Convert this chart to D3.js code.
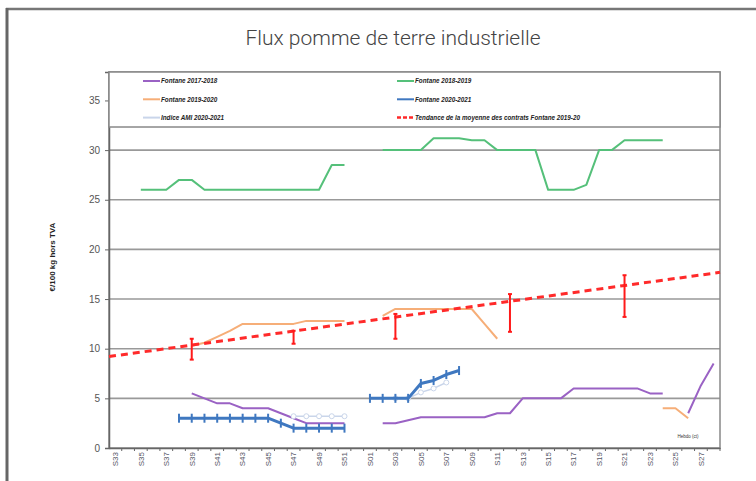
<!DOCTYPE html>
<html>
<head>
<meta charset="UTF-8">
<script src="https://cdn.jsdelivr.net/npm/d3@7"></script>
<style>
  body { margin: 0; background: white; }
  svg { display: block; }
</style>
</head>
<body>
<div id="chart"></div>
<script>
// week categories (x axis)
const weeks = ["S33","S34","S35","S36","S37","S38","S39","S40","S41","S42","S43","S44","S45","S46","S47","S48","S49","S50","S51","S52",
  "S01","S02","S03","S04","S05","S06","S07","S08","S09","S10","S11","S12","S13","S14","S15","S16","S17","S18","S19","S20","S21","S22","S23","S24","S25","S26","S27","S28"];
const _ = null;

const fontane1718 = [_,_,_,_,_,_,5.5,5.0,4.5,4.5,4,4,4,3.5,3,2.5,2.5,2.5,2.5,_,
  _,2.5,2.5,2.8,3.1,3.1,3.1,3.1,3.1,3.1,3.5,3.5,5,5,5,5,6,6,6,6,6,6,5.5,5.5,_,3.5,6.3,8.5];
const fontane1819 = [_,_,26,26,26,27,27,26,26,26,26,26,26,26,26,26,26,28.5,28.5,_,
  _,30,30,30,30,31.2,31.2,31.2,31,31,30,30,30,30,26,26,26,26.5,30,30,31,31,31,31,_,_,_,_];
const fontane1920 = [_,_,_,_,_,_,10.3,10.6,11.2,11.8,12.5,12.5,12.5,12.5,12.5,12.8,12.8,12.8,12.8,_,
  _,13.3,14,14,14,14,14,14,14,12.5,11,_,_,_,_,_,_,_,_,_,_,_,_,4,4,3,_,_];
const fontane2021 = [_,_,_,_,_,3,3,3,3,3,3,3,3,2.5,2,2,2,2,2,_,
  5,5,5,5,6.5,6.8,7.4,7.8,_,_,_,_,_,_,_,_,_,_,_,_,_,_,_,_,_,_,_,_];
const amiIndex = [_,_,_,_,_,_,_,_,_,_,_,_,_,_,3.2,3.2,3.2,3.2,3.2,_,
  _,_,5,5,5.6,6.0,6.6,_,_,_,_,_,_,_,_,_,_,_,_,_,_,_,_,_,_,_,_,_];

// trend of the average Fontane 2019-20 contracts
const trendWeeks = ["S33","S28"];
const trendValues = [9.3, 17.6];

// min / max ranges (red bars)
const rangeWeeks = ["S39","S47","S03","S12","S21"];
const rangeLow = [8.9, 10.5, 11.0, 11.7, 13.2];
const rangeHigh = [11.0, 11.8, 13.5, 15.5, 17.4];

const yTicks = [0,5,10,15,20,25,30,35];
const xLabels = weeks.filter((w, i) => i % 2 === 0);

const W = 756, H = 481;
const pLeft = 109, pRight = 720, pTop = 72, pBottom = 448;

const svg = d3.select('#chart').append('svg').attr('width', W).attr('height', H);

// outer frame
svg.append('line').attr('x1', 6).attr('x2', W).attr('y1', 9).attr('y2', 9)
  .attr('stroke', '#777').attr('stroke-width', 2.5);
svg.append('line').attr('x1', 7).attr('x2', 7).attr('y1', 8).attr('y2', H)
  .attr('stroke', '#666').attr('stroke-width', 3);

svg.append('text').attr('x', 393).attr('y', 45).attr('text-anchor', 'middle')
  .style('font-family', 'Roboto').style('font-weight', 300).style('font-size', '21px')
  .attr('fill', '#444').text('Flux pomme de terre industrielle');

const x = d3.scaleBand().domain(weeks).range([pLeft, pRight]);
const cx = w => x(w) + x.bandwidth() / 2;
const y = d3.scaleLinear().domain([0, (pBottom - pTop) / 9.93]).range([pBottom, pTop]);

// grid
svg.append('g').selectAll('line').data(yTicks.filter(d => d > 0)).enter().append('line')
  .attr('x1', pLeft).attr('x2', pRight).attr('y1', d => y(d)).attr('y2', d => y(d))
  .attr('stroke', '#999').attr('stroke-width', 1.6);

// plot border
svg.append('rect').attr('x', pLeft).attr('y', pTop).attr('width', pRight - pLeft).attr('height', pBottom - pTop)
  .attr('fill', 'none').attr('stroke', '#888').attr('stroke-width', 1.5);

// y axis
const yAxis = svg.append('g').attr('transform', `translate(${pLeft},0)`)
  .call(d3.axisLeft(y).tickValues(yTicks).tickSize(4).tickPadding(5));
yAxis.select('.domain').attr('stroke', '#666').attr('stroke-width', 1.5);
yAxis.selectAll('line').attr('stroke', '#666');
yAxis.selectAll('text').style('font-family', 'Liberation Sans').style('font-size', '10px').attr('fill', '#555');

// x axis
const xAxis = svg.append('g').attr('transform', `translate(0,${pBottom})`)
  .call(d3.axisBottom(x).tickValues(xLabels).tickSize(0).tickPadding(3));
xAxis.select('.domain').attr('stroke', '#666').attr('stroke-width', 1.5);
xAxis.selectAll('text')
  .attr('transform', 'rotate(-90)').attr('text-anchor', 'end').attr('dy', '0.35em')
  .attr('x', -4).attr('y', 0)
  .style('font-family', 'Liberation Sans').style('font-size', '8px').attr('fill', '#556');
xAxis.append('g').selectAll('line').data(weeks).enter().append('line')
  .attr('x1', d => x(d) + x.bandwidth()).attr('x2', d => x(d) + x.bandwidth())
  .attr('y1', 0).attr('y2', 3).attr('stroke', '#666');

svg.append('text').attr('transform', 'translate(55,257) rotate(-90)').attr('text-anchor', 'middle')
  .style('font-family', 'Liberation Sans').style('font-weight', 'bold').style('font-size', '8px')
  .attr('fill', '#222').text('€/100 kg hors TVA');

const line = d3.line().defined(d => d.v != null).x(d => cx(d.w)).y(d => y(d.v));
const pts = arr => arr.map((v, i) => ({ w: weeks[i], v: v }));

function drawSeries(arr, color, width) {
  svg.append('path').datum(pts(arr)).attr('d', line)
    .attr('fill', 'none').attr('stroke', color).attr('stroke-width', width).attr('stroke-linejoin', 'round');
}

drawSeries(fontane1819, '#55c07a', 2);
drawSeries(fontane1920, '#f6ae78', 2);
drawSeries(fontane1718, '#9a62c4', 2);

// AMI index
drawSeries(amiIndex, '#c9d5ea', 1.5);
svg.append('g').selectAll('circle').data(pts(amiIndex).filter(d => d.v != null)).enter().append('circle')
  .attr('cx', d => cx(d.w)).attr('cy', d => y(d.v)).attr('r', 2.5)
  .attr('fill', 'white').attr('stroke', '#c9d5ea').attr('stroke-width', 1);

// Fontane 2020-2021
drawSeries(fontane2021, '#3f78c0', 3);
svg.append('g').selectAll('line').data(pts(fontane2021).filter(d => d.v != null)).enter().append('line')
  .attr('x1', d => cx(d.w)).attr('x2', d => cx(d.w))
  .attr('y1', d => y(d.v) - 4.5).attr('y2', d => y(d.v) + 4.5)
  .attr('stroke', '#3f78c0').attr('stroke-width', 2);

// trend line, extended to the plot edges
const tx0 = cx(trendWeeks[0]), tx1 = cx(trendWeeks[1]);
const slope = (trendValues[1] - trendValues[0]) / (tx1 - tx0);
svg.append('line')
  .attr('x1', pLeft).attr('y1', y(trendValues[0] + slope * (pLeft - tx0)))
  .attr('x2', pRight).attr('y2', y(trendValues[0] + slope * (pRight - tx0)))
  .attr('stroke', '#ff2a2a').attr('stroke-width', 3).attr('stroke-dasharray', '7,5');

// red ranges
const ranges = rangeWeeks.map((w, i) => ({ w: w, lo: rangeLow[i], hi: rangeHigh[i] }));
const rg = svg.append('g').attr('stroke', '#ff1a1a').attr('stroke-width', 2);
rg.selectAll('.bar').data(ranges).enter().append('line')
  .attr('x1', d => cx(d.w)).attr('x2', d => cx(d.w)).attr('y1', d => y(d.lo)).attr('y2', d => y(d.hi));
rg.selectAll('.capl').data(ranges).enter().append('line')
  .attr('x1', d => cx(d.w) - 2).attr('x2', d => cx(d.w) + 2).attr('y1', d => y(d.lo)).attr('y2', d => y(d.lo));
rg.selectAll('.caph').data(ranges).enter().append('line')
  .attr('x1', d => cx(d.w) - 2).attr('x2', d => cx(d.w) + 2).attr('y1', d => y(d.hi)).attr('y2', d => y(d.hi));

svg.append('text').attr('x', 688).attr('y', 438).attr('text-anchor', 'middle')
  .style('font-family', 'Liberation Sans').style('font-size', '4.5px').attr('fill', '#333').text('Hebdo (ct)');

// legend
const legendItems = [
  { name: 'Fontane 2017-2018', color: '#9a62c4', col: 0, row: 0 },
  { name: 'Fontane 2018-2019', color: '#55c07a', col: 1, row: 0 },
  { name: 'Fontane 2019-2020', color: '#f6ae78', col: 0, row: 1 },
  { name: 'Fontane 2020-2021', color: '#3f78c0', col: 1, row: 1 },
  { name: 'Indice AMI 2020-2021', color: '#c9d5ea', col: 0, row: 2 },
  { name: 'Tendance de la moyenne des contrats Fontane 2019-20', color: '#ff2a2a', col: 1, row: 2, dash: true }
];
svg.append('rect').attr('x', pLeft).attr('y', pTop).attr('width', pRight - pLeft).attr('height', 55)
  .attr('fill', 'white').attr('stroke', '#888').attr('stroke-width', 1.5);
const lg = svg.append('g').selectAll('g').data(legendItems).enter().append('g')
  .attr('transform', d => `translate(${d.col ? 397 : 143},${81 + d.row * 18.3})`);
lg.append('line').attr('x1', 0).attr('x2', 17).attr('y1', 0).attr('y2', 0)
  .attr('stroke', d => d.color).attr('stroke-width', d => d.dash ? 2.5 : 2)
  .attr('stroke-dasharray', d => d.dash ? '4,2' : null);
lg.append('text').attr('x', 18).attr('y', 0).attr('dy', '0.35em')
  .style('font-family', 'Liberation Sans').style('font-style', 'italic').style('font-weight', 'bold')
  .style('font-size', '6.3px').attr('fill', '#222').text(d => d.name);
</script>
</body>
</html>
